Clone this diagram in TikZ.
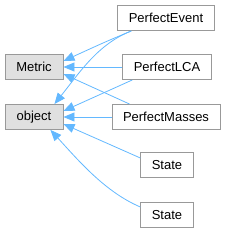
\documentclass[tikz,border=0pt]{standalone}
\usepackage{fontspec}
\setmainfont{Liberation Sans}
\usetikzlibrary{arrows.meta}
\usetikzlibrary{calc}
\definecolor{edgeblue}{HTML}{63B8FF}
\definecolor{basegray}{HTML}{E0E0E0}
\definecolor{boxgray}{HTML}{999999}

\begin{document}
\begin{tikzpicture}[x=1pt, y=-1pt,
    cls/.style={draw=boxgray, fill=white, line width=0.9pt, minimum height=25pt, inner xsep=11pt,
      font=\fontsize{13}{15}\selectfont},
    base/.style={cls, fill=basegray, minimum width=58pt},
    inh/.style={draw=edgeblue, line width=0.8pt, -{Triangle[length=11pt, width=9pt]}}]
        \useasboundingbox (0,0) rectangle (228,233);

        % base classes
        \node[base] (metric) at (34,67) {Metric};
        \node[base] (object) at (34,117) {object};

        % derived classes
        \node[cls] (event) at (166,18) {PerfectEvent};
        \node[cls] (lca) at (167,67) {PerfectLCA};
        \node[cls] (masses) at (166,117) {PerfectMasses};
        \node[cls] (stateA) at (167,165) {State};
        \node[cls] (stateB) at (167,215) {State};

        % inheritance
        \draw[inh] ($(event.south west)+(14,0)$) .. controls (105,42) .. ($(metric.east)+(0,-6)$);
        \draw[inh] ($(event.south west)+(14,0)$) .. controls (98,44) and (80,72) .. ($(object.north east)+(-9,0)$);
        \draw[inh] (lca.west) -- (metric.east);
        \draw[inh] ($(lca.south west)+(10,0)$) -- ($(object.east)+(0,-6)$);
        \draw[inh] ($(masses.north west)+(18,0)$) -- ($(metric.east)+(0,7)$);
        \draw[inh] (masses.west) -- (object.east);
        \draw[inh] ($(stateA.west)+(0,-7)$) -- ($(object.east)+(0,7)$);
        \draw[inh] ($(stateB.west)+(0,-8)$) .. controls (105,192) and (78,160) .. ($(object.south east)+(-13,0)$);

\end{tikzpicture}
\end{document}
